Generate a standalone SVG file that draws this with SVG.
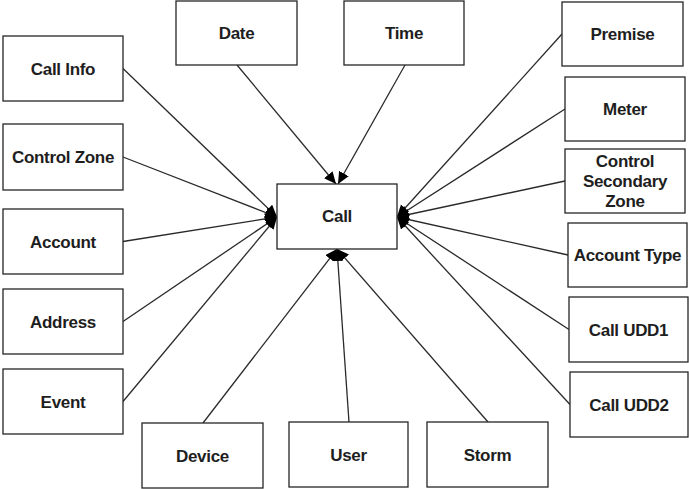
<svg xmlns="http://www.w3.org/2000/svg" width="689" height="489" viewBox="0 0 689 489">
<style>
.box{fill:#fff;stroke:#262626;stroke-width:1.3}
.t{font-family:"Liberation Sans",Arial,sans-serif;font-size:17px;font-weight:bold;text-anchor:middle;fill:#1e1e1e;letter-spacing:-0.3px}
.c{stroke:#2a2a2a;stroke-width:1.3;fill:none;marker-end:url(#ah)}
</style>
<defs>
<marker id="ah" markerUnits="userSpaceOnUse" markerWidth="13" markerHeight="12" refX="12" refY="5.5" orient="auto">
<path d="M0,0 L12,5.5 L0,11 Z" fill="#000"/>
</marker>
</defs>
<rect width="689" height="489" fill="#fff"/>
<g id="connectors">
<line class="c" x1="237" y1="65" x2="336" y2="184"/>
<line class="c" x1="405" y1="65" x2="338" y2="184"/>
<line class="c" x1="123" y1="68.5" x2="277" y2="217"/>
<line class="c" x1="123" y1="157" x2="277" y2="217"/>
<line class="c" x1="123" y1="241.5" x2="277" y2="217"/>
<line class="c" x1="123" y1="321.5" x2="277" y2="217"/>
<line class="c" x1="123" y1="401.5" x2="277" y2="217"/>
<line class="c" x1="562" y1="34" x2="397" y2="217"/>
<line class="c" x1="565" y1="109" x2="397" y2="217"/>
<line class="c" x1="565" y1="181" x2="397" y2="217"/>
<line class="c" x1="568" y1="255" x2="397" y2="217"/>
<line class="c" x1="569" y1="329.5" x2="397" y2="217"/>
<line class="c" x1="570" y1="404.5" x2="397" y2="217"/>
<line class="c" x1="203" y1="423" x2="337" y2="249"/>
<line class="c" x1="349" y1="422" x2="337" y2="249"/>
<line class="c" x1="488" y1="422" x2="337" y2="249"/>
</g>
<g id="call"><rect class="box" x="277" y="184" width="120" height="65"/><text class="t" x="337" y="222">Call</text></g>
<g id="date"><rect class="box" x="176" y="1" width="121" height="64"/><text class="t" x="236.5" y="39">Date</text></g>
<g id="time"><rect class="box" x="344" y="1" width="120" height="64"/><text class="t" x="404" y="39">Time</text></g>
<g id="callinfo"><rect class="box" x="3" y="36" width="120" height="65"/><text class="t" x="63" y="74.5">Call Info</text></g>
<g id="controlzone"><rect class="box" x="3" y="124" width="120" height="66"/><text class="t" x="63" y="163">Control Zone</text></g>
<g id="account"><rect class="box" x="3" y="209" width="120" height="65"/><text class="t" x="63" y="247.5">Account</text></g>
<g id="address"><rect class="box" x="3" y="289" width="120" height="65"/><text class="t" x="63" y="327.5">Address</text></g>
<g id="event"><rect class="box" x="3" y="369" width="120" height="65"/><text class="t" x="63" y="407.5">Event</text></g>
<g id="premise"><rect class="box" x="562" y="2" width="121" height="64"/><text class="t" x="622.5" y="40">Premise</text></g>
<g id="meter"><rect class="box" x="565" y="77" width="120" height="64"/><text class="t" x="625" y="115">Meter</text></g>
<g id="controlsecondaryzone"><rect class="box" x="565" y="149" width="120" height="64"/><text class="t" x="625" y="167">Control</text><text class="t" x="625" y="187">Secondary</text><text class="t" x="625" y="206.5">Zone</text></g>
<g id="accounttype"><rect class="box" x="568" y="223" width="119" height="64"/><text class="t" x="627.5" y="261">Account Type</text></g>
<g id="calludd1"><rect class="box" x="569" y="297" width="119" height="65"/><text class="t" x="628.5" y="335.5">Call UDD1</text></g>
<g id="calludd2"><rect class="box" x="570" y="372" width="118" height="65"/><text class="t" x="629" y="410.5">Call UDD2</text></g>
<g id="device"><rect class="box" x="142" y="423" width="121" height="65"/><text class="t" x="202.5" y="461.5">Device</text></g>
<g id="user"><rect class="box" x="289" y="422" width="119" height="65"/><text class="t" x="348.5" y="460.5">User</text></g>
<g id="storm"><rect class="box" x="427" y="422" width="121" height="65"/><text class="t" x="487.5" y="460.5">Storm</text></g>
</svg>
